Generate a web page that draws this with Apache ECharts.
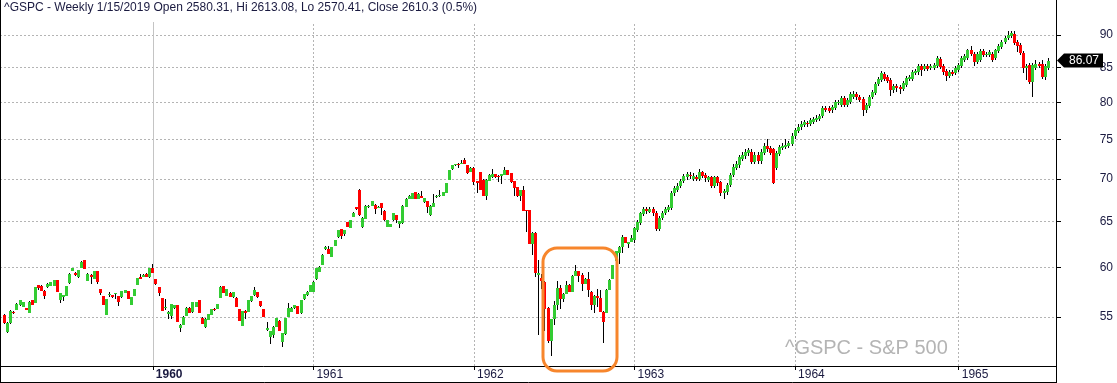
<!DOCTYPE html>
<html><head><meta charset="utf-8">
<script src="https://cdn.jsdelivr.net/npm/echarts@6/dist/echarts.min.js"></script>
<style>html,body{margin:0;padding:0;background:#fff}#c{width:1117px;height:383px}</style>
</head><body><div id="c"></div>
<script>
// weekly [open, close, low, high]
const ohlc1959 = [
[55.21,54.42,54.3,55.3],[53.55,54.42,53.5,54.5],[54.42,55.59,54.3,55.65],[55.52,55.37,55.3,55.6],[55.69,56.27,55.65,56.4],
[56.14,56.67,56.1,56.7],[56.00,56.47,55.95,56.5],[55.88,55.69,55.65,55.9],[55.42,56.50,55.4,56.55],[56.67,56.20,56.15,56.7],
[56.40,57.97,56.35,58.0],[58.17,57.90,57.66,58.2],[58.10,57.60,57.55,58.15],[57.60,57.05,56.8,57.65],[57.94,58.24,57.9,58.34],
[58.10,58.44,58.05,58.5],[58.10,58.68,58.05,58.7],[58.68,57.49,57.45,58.7],[56.67,57.33,56.40,57.35],[56.99,57.19,56.6,57.2],
[57.09,58.07,57.05,58.1],[58.34,59.30,58.3,59.35],[59.64,59.92,59.6,59.95],[59.43,59.16,59.1,59.53],[58.95,59.71,58.9,59.75],
[59.95,60.55,59.9,60.6],[60.76,59.85,59.8,60.8],[58.61,59.30,58.55,59.35],[59.22,59.01,58.3,59.25],[58.81,59.60,58.75,59.65],
[59.60,58.50,58.3,59.65],[57.76,57.36,57.13,57.8],[57.09,56.20,56.15,57.1],[55.24,56.76,55.2,56.8],[57.13,57.29,56.99,57.46],
[57.19,56.93,56.83,57.2],[57.26,57.39,56.76,57.4],[57.06,56.50,56.10,57.1],[56.93,57.56,56.9,57.6],[57.39,57.69,57.35,57.7],
[57.56,56.79,56.75,57.6],[56.20,56.96,56.15,57.0],[57.09,57.76,57.05,57.8],[58.20,58.88,58.15,58.9],[59.01,58.78,58.75,59.30],
[59.01,59.16,58.95,59.3],[59.30,59.01,58.95,59.35],[58.95,59.92,58.9,59.95]
];
const ohlc1960 = [
[59.92,59.43,59.4,60.34],[58.78,58.27,58.17,58.8],[57.97,57.39,57.06,58.0],[56.86,55.62,55.6,56.9],[55.90,55.98,55.69,56.76],
[55.30,55.52,54.80,55.55],[55.11,56.27,54.80,56.3],[55.85,56.17,55.8,56.2],[56.17,54.57,54.5,56.2],[54.00,54.25,53.55,54.3],
[54.25,55.04,54.2,55.1],[55.11,55.91,55.05,55.95],[55.91,55.42,55.35,55.95],[55.46,56.44,55.4,56.5],[56.00,56.44,55.95,56.5],
[56.64,55.42,55.35,56.7],[54.95,54.37,54.3,55.0],[54.09,54.85,54.0,54.9],[54.73,55.27,54.7,55.3],[55.21,55.78,55.15,55.8],
[55.78,55.69,55.6,55.85],[55.78,56.27,55.75,56.3],[56.90,58.00,56.85,58.05],[58.07,57.39,57.35,58.1],[57.09,57.76,57.05,57.8],
[57.39,56.99,56.95,57.45],[56.96,57.49,56.9,57.5],[56.89,56.00,55.95,56.95],[55.78,54.63,54.6,55.8],[54.16,55.59,54.1,55.6],
[55.59,55.42,54.8,55.65],[55.52,56.67,55.5,56.7],[56.57,57.09,56.5,57.1],[57.16,57.66,57.1,58.0],[57.46,56.93,56.9,57.5],
[56.57,56.07,56.0,56.6],[55.78,55.04,55.0,55.8],[53.78,53.97,53.7,54.5],[53.08,53.65,52.5,53.7],[53.29,54.06,53.0,54.1],
[54.09,54.92,54.05,54.95],[54.63,53.69,53.65,54.7],[52.67,53.47,52.2,53.5],[53.38,54.92,53.3,54.95],[55.04,55.85,55.0,56.4],
[55.52,55.91,55.45,55.95],[55.85,56.17,55.8,56.2],[56.07,55.30,55.25,56.1],[55.37,56.67,55.3,56.7],[56.76,57.26,56.7,57.3],
[57.16,57.49,57.1,57.55],[57.49,58.17,57.45,58.2]
];
const ohlc1961 = [
[57.49,58.50,57.45,58.55],[58.78,59.89,58.7,59.95],[59.53,60.05,59.5,60.1],[60.23,61.32,60.2,61.35],[61.90,62.20,61.85,62.25],
[61.93,61.40,61.35,62.3],[61.10,62.10,61.05,62.15],[62.30,62.90,62.25,62.95],[63.20,64.00,63.15,64.05],[64.10,63.40,63.0,64.15],
[63.60,64.00,63.4,64.05],[64.90,64.40,64.35,64.95],[64.30,65.10,64.25,65.15],[65.50,66.00,65.45,66.05],[66.60,66.40,66.35,66.65],
[68.70,65.70,65.65,68.75],[64.40,65.40,64.2,65.45],[65.30,66.80,65.25,66.85],[66.60,66.80,66.55,66.85],[66.80,67.30,66.75,67.35],
[66.90,66.40,65.8,66.95],[66.60,66.70,66.5,66.75],[67.10,66.50,65.7,67.15],[66.20,65.10,65.05,66.25],[64.40,65.10,64.35,65.15],
[64.40,64.70,64.35,64.75],[65.10,65.90,65.05,65.95],[65.70,65.10,64.8,65.75],[64.70,65.00,64.3,65.05],[64.80,66.80,64.75,66.85],
[66.70,67.60,66.65,67.65],[67.60,68.00,67.55,68.05],[67.60,68.30,67.55,68.35],[68.40,67.60,67.55,68.45],[67.60,68.20,67.55,68.25],
[67.90,67.70,67.65,68.5],[67.20,67.70,67.15,67.75],[67.30,66.70,66.0,67.35],[65.70,66.80,65.65,66.85],[66.70,67.10,66.65,68.2],
[67.80,68.00,67.75,68.05],[67.90,68.10,67.85,68.6],[68.00,68.40,67.95,68.45],[68.30,69.50,68.25,69.55],[69.90,71.10,69.85,71.15],
[71.20,71.70,71.15,71.75],[71.70,71.80,71.65,71.85],[71.90,71.80,71.4,71.95],[71.90,72.00,71.85,72.3],[72.40,71.90,71.85,72.6],
[71.70,70.70,70.65,71.75],[70.90,71.40,70.85,71.45]
];
const ohlc1962 = [
[71.40,69.60,69.3,71.45],[69.70,69.50,68.3,69.75],[70.80,68.70,68.65,70.85],[69.90,68.00,67.95,69.95],[68.00,69.90,67.5,69.95],
[69.80,70.50,69.75,70.55],[70.20,70.60,70.15,71.2],[70.60,70.20,70.15,70.65],[70.40,70.30,69.6,70.5],[70.30,70.60,69.4,70.65],
[70.50,71.10,70.45,71.5],[71.10,70.50,70.45,71.15],[70.70,69.60,69.55,70.75],[69.70,68.90,67.9,69.75],[69.00,67.90,67.85,69.05],
[67.90,68.60,67.3,68.65],[68.60,66.20,66.15,69.2],[66.30,66.20,63.8,66.35],[66.30,62.50,62.45,66.35],[62.50,63.70,61.3,63.8],
[63.70,59.40,59.0,63.8],[59.20,59.40,53.3,60.8],[58.90,58.60,57.8,59.3],[58.50,55.80,53.7,58.6],[55.90,52.70,52.6,56.0],
[52.70,54.80,51.4,54.85],[54.80,56.20,54.2,56.6],[56.20,57.90,55.7,58.6],[57.90,56.80,55.8,58.2],[56.80,57.30,56.5,57.35],
[57.30,58.20,57.25,58.6],[58.20,57.50,57.45,58.25],[57.50,59.10,57.45,59.15],[59.10,59.60,59.05,60.2],[59.60,59.10,58.5,59.65],
[59.20,58.30,57.6,59.4],[58.30,58.80,58.25,58.85],[58.80,57.70,57.0,59.5],[57.50,56.20,55.7,57.55],[56.20,57.10,55.4,57.15],
[57.10,56.90,56.0,57.8],[56.90,55.50,55.45,57.7],[55.50,54.50,52.6,55.55],[55.40,57.70,55.35,57.75],[57.70,58.70,57.65,58.75],
[58.80,60.20,58.75,60.25],[60.60,61.70,60.4,61.75],[61.50,62.20,60.3,62.25],[62.20,63.20,61.5,63.5],[63.20,62.60,62.55,63.25],
[62.50,62.70,62.0,62.75],[62.70,63.10,62.65,63.5]
];
const ohlc1963 = [
[62.90,64.20,62.6,64.4],[64.00,64.90,63.8,65.1],[64.80,65.90,64.6,66.1],[65.80,66.40,65.6,66.6],[66.40,66.20,65.8,66.7],
[66.10,66.40,65.9,66.7],[66.40,65.90,65.6,66.6],[66.00,64.10,63.9,66.2],[64.10,65.40,63.9,65.6],[65.40,66.00,65.2,66.2],
[65.90,66.40,65.7,66.6],[66.30,66.70,66.1,66.9],[66.50,68.30,66.3,68.5],[68.30,68.90,68.0,69.1],[68.70,69.20,68.4,69.5],
[69.20,69.80,68.9,70.0],[69.80,70.30,69.5,70.6],[70.20,70.60,69.9,70.9],[70.50,70.30,70.0,70.8],[70.00,70.40,69.7,70.7],
[70.20,70.00,69.7,70.5],[70.00,70.90,69.7,71.2],[70.80,70.40,70.1,71.0],[70.50,70.10,69.6,70.7],[69.90,70.20,69.6,70.4],
[70.20,69.20,68.9,70.4],[69.20,70.20,68.9,70.4],[70.20,69.50,69.2,70.4],[69.60,68.30,68.0,69.8],[68.30,68.50,67.6,68.8],
[68.40,69.30,68.1,69.5],[69.30,70.50,69.0,70.7],[70.50,71.50,70.2,71.8],[71.40,71.90,71.1,72.2],[71.70,72.70,71.4,73.0],
[72.50,73.00,72.2,73.4],[72.80,73.40,72.5,73.8],[73.30,73.60,72.9,73.9],[73.40,72.10,71.8,73.8],[72.10,73.00,71.8,73.4],
[73.00,72.20,71.9,73.4],[72.20,73.40,71.9,73.7],[73.30,74.10,73.0,74.5],[74.10,73.70,73.4,75.0],[73.90,73.30,73.0,74.2],
[73.70,69.50,69.4,73.9],[71.40,73.20,71.1,73.5],[73.10,74.00,72.8,74.3],[73.90,74.20,73.6,74.5],[74.00,74.30,73.7,75.0],
[74.20,74.50,73.9,74.8],[74.40,75.50,74.1,75.8]
];
const ohlc1964 = [
[75.40,76.20,75.1,76.5],[76.10,76.70,75.8,77.0],[76.60,77.10,76.3,77.4],[76.90,77.30,76.6,77.6],[77.20,77.00,76.7,77.5],
[77.10,77.60,76.8,77.9],[77.30,77.70,77.0,78.0],[77.60,77.90,77.3,78.2],[77.70,78.10,77.4,78.4],[78.10,79.20,77.8,79.5],
[79.20,79.00,78.7,79.5],[79.20,78.80,78.5,79.5],[78.90,79.40,78.6,79.7],[79.20,80.00,78.9,80.3],[79.90,80.10,79.6,80.4],
[79.70,80.60,79.4,80.9],[80.60,79.60,79.3,80.9],[79.70,80.30,79.4,80.6],[80.10,81.20,79.8,81.5],[80.80,81.20,80.5,81.6],
[81.20,80.70,80.4,81.5],[80.80,80.30,80.0,81.1],[80.50,78.90,78.1,80.8],[78.90,79.60,78.6,79.9],[79.50,80.80,79.2,81.1],
[80.80,81.50,80.5,81.8],[81.30,82.60,81.0,82.9],[82.60,83.40,82.3,83.7],[83.20,84.20,82.9,84.5],[84.10,83.40,83.1,84.4],
[83.60,83.10,82.8,83.9],[83.20,81.70,80.9,83.5],[81.70,82.30,81.4,82.6],[82.30,82.00,81.5,82.6],[82.20,81.90,81.2,82.5],
[81.90,82.70,81.6,83.0],[82.50,83.50,82.2,83.8],[83.40,83.60,83.1,83.9],[83.40,84.30,83.1,84.6],[84.20,84.50,83.9,84.8],
[84.30,85.30,84.0,85.6],[85.30,84.70,83.8,85.6],[84.80,85.30,84.5,85.6],[85.30,84.80,84.5,85.6],[84.90,85.30,84.6,85.6],
[85.00,85.40,84.7,85.7],[85.20,86.40,84.9,86.8],[86.30,85.10,84.8,86.6],[85.30,84.30,84.0,85.6],[84.50,83.80,83.0,84.8],
[83.80,84.40,83.5,84.7],[84.40,84.10,83.8,84.7],[84.20,84.90,83.9,85.2]
];
const ohlc1965 = [
[84.60,85.40,84.3,85.7],[85.30,86.40,85.0,86.7],[86.10,86.80,85.8,87.1],[86.50,87.60,86.2,87.9],[87.60,87.10,86.8,88.3],
[87.00,85.90,85.3,87.3],[85.90,87.00,85.6,87.3],[86.10,87.50,85.8,87.8],[87.50,86.90,86.6,87.8],[86.90,87.10,86.6,87.4],
[86.90,87.30,86.6,87.6],[87.00,86.10,85.8,87.3],[86.50,87.60,86.2,87.9],[87.50,88.30,87.2,88.6],[88.20,88.90,87.9,89.2],
[88.90,89.50,88.6,89.8],[89.50,90.00,89.2,90.6],[89.80,90.30,89.5,90.6],[90.10,88.70,88.4,90.6],[88.90,88.30,87.4,89.2],
[88.40,87.20,86.9,88.7],[87.20,85.00,84.2,87.5],[85.00,85.30,83.2,85.6],[85.40,82.90,82.6,85.7],[82.90,85.40,80.8,85.7],
[85.00,85.60,84.7,86.2],[85.60,85.20,84.9,85.9],[85.60,83.60,83.3,86.2],[83.60,85.30,83.2,85.6],[85.00,86.07,84.7,86.4]
];
const yTicks = [55, 60, 65, 70, 75, 80, 85, 90];
const yMin = 50.49, yMax = 92.07;
const startWeek = '1959-01-28';
const padBefore = 1, padAfter = 2;
const lastClose = 86.07;
const titleText = '^GSPC - Weekly 1/15/2019 Open 2580.31, Hi 2613.08, Lo 2570.41, Close 2610.3 (0.5%)';
const watermarkText = '^GSPC - S&P 500';
const boldYear = '1960';

const UP = '#33cc33', DOWN = '#ff0000', TXT = '#1a1a40';
const weeks = [].concat(ohlc1959, ohlc1960, ohlc1961, ohlc1962, ohlc1963, ohlc1964, ohlc1965);
const nCat = padBefore + weeks.length + padAfter;
const cats = [];
const t0 = Date.parse(startWeek + 'T00:00:00Z');
for (let i = 0; i < nCat; i++) cats.push(new Date(t0 + i * 7 * 86400000).toISOString().slice(0, 10));
const yearStart = new Set();
for (let i = 1; i < nCat; i++) if (cats[i].slice(0, 4) !== cats[i - 1].slice(0, 4)) yearStart.add(i);
const seriesData = weeks.map((w, i) => [i + padBefore, w[0], w[1], w[2], w[3]]);
const isYearStart = (i) => yearStart.has(i);

const chart = echarts.init(document.getElementById('c'), null, {renderer: 'canvas'});
const yearLines = [...yearStart].map(i => {
  const isBold = cats[i].slice(0, 4) === boldYear;
  return {xAxis: cats[i], lineStyle: isBold ? {color: '#c4c4c4', type: 'solid', width: 1} : {color: '#b4b4b4', type: [2, 2], width: 1}};
});

chart.setOption({
  animation: false,
  backgroundColor: '#fff',
  title: {text: titleText, left: 4, top: 2, padding: 0,
    textStyle: {fontSize: 12, fontWeight: 'normal', color: TXT, fontFamily: 'Liberation Sans'}},
  grid: {left: 0, right: 61, top: 22, bottom: 17, containLabel: false},
  xAxis: {
    type: 'category', data: cats, boundaryGap: true,
    axisLine: {show: true, lineStyle: {color: '#000', width: 1}},
    axisTick: {show: true, interval: isYearStart, alignWithLabel: true, length: 4, lineStyle: {color: '#000'}},
    axisLabel: {interval: isYearStart, align: 'left', margin: 3, padding: [0, 0, 0, 3],
      fontSize: 12, fontFamily: 'Liberation Sans', color: TXT,
      formatter: (v) => v.slice(0, 4) === boldYear ? '{b|' + v.slice(0, 4) + '}' : v.slice(0, 4),
      rich: {b: {fontWeight: 'bold', fontSize: 12, fontFamily: 'Liberation Sans', color: TXT}}},
    splitLine: {show: false}
  },
  yAxis: {
    type: 'log', logBase: 10, min: yMin, max: yMax, position: 'right',
    axisLine: {show: true, lineStyle: {color: '#000', width: 1}},
    axisTick: {show: true, length: 5, customValues: yTicks, lineStyle: {color: '#000'}},
    axisLabel: {customValues: yTicks, color: TXT, fontSize: 12, fontFamily: 'Liberation Sans', align: 'right', margin: 57},
    splitLine: {show: true, lineStyle: {color: '#b4b4b4', type: [2, 2], width: 1}}
  },
  series: [{
    type: 'custom',
    data: seriesData,
    encode: {x: 0, y: [1, 2, 3, 4]},
    renderItem: function (params, api) {
      const x = api.value(0);
      const o = api.value(1), c = api.value(2), l = api.value(3), h = api.value(4);
      const pO = api.coord([x, o]), pC = api.coord([x, c]), pL = api.coord([x, l]), pH = api.coord([x, h]);
      const cx = Math.round(pO[0] - 0.5);
      const top = Math.round(Math.min(pO[1], pC[1])), bot = Math.round(Math.max(pO[1], pC[1]));
      const wt = Math.round(pH[1]), wb = Math.round(pL[1]);
      return {type: 'group', children: [
        {type: 'rect', shape: {x: cx, y: wt, width: 1, height: Math.max(1, wb - wt)}, style: {fill: '#000'}},
        {type: 'rect', shape: {x: cx - 1, y: top, width: 3, height: Math.max(1, bot - top)}, style: {fill: c >= o ? UP : DOWN}}
      ]};
    },
    markLine: {silent: true, symbol: 'none', label: {show: false}, data: yearLines, z: 1},
    z: 3
  }]
});

const py = chart.convertToPixel({yAxisIndex: 0}, lastClose);
chart.setOption({
  graphic: [
    {type: 'line', shape: {x1: 0.5, y1: 0, x2: 0.5, y2: 383}, style: {stroke: '#000', lineWidth: 1}, z: 50},
    {type: 'line', shape: {x1: 1056.5, y1: 0, x2: 1056.5, y2: 383}, style: {stroke: '#000', lineWidth: 1}, z: 50},
    {type: 'line', shape: {x1: 0, y1: 382.5, x2: 1057, y2: 382.5}, style: {stroke: '#000', lineWidth: 1}, z: 50},
    {type: 'text', left: 785, top: 338, style: {text: watermarkText, fill: '#b4b4b4', fontSize: 20, fontFamily: 'Liberation Sans'}, z: 40},
    {type: 'rect', shape: {x: 543, y: 248, width: 74, height: 123, r: 14}, style: {fill: null, stroke: '#f7862c', lineWidth: 3}, z: 60},
    {type: 'polygon', shape: {points: [[1057, py], [1064, py - 7], [1103, py - 7], [1103, py + 7], [1064, py + 7]]}, style: {fill: '#000'}, z: 70},
    {type: 'text', x: 1084, y: py, style: {text: lastClose.toFixed(2), fill: '#fff', fontSize: 12, fontFamily: 'Liberation Sans', align: 'center', verticalAlign: 'middle'}, z: 71}
  ]
});
</script></body></html>
